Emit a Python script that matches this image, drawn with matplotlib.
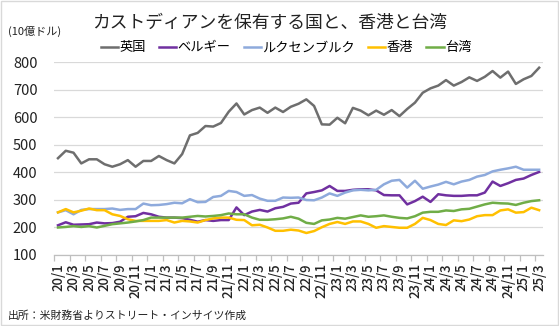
"""Custody holdings: UK, Belgium, Luxembourg vs Hong Kong and Taiwan (monthly, 20/1-25/3)."""

import matplotlib
matplotlib.use("Agg")
import matplotlib.pyplot as plt
from matplotlib.patches import Rectangle
import numpy as np

plt.rcParams["font.family"] = ["Noto Sans CJK JP", "DejaVu Sans"]

# monthly categories 20/1 .. 25/3
months = [f"{y}/{m}" for y in range(20, 26) for m in range(1, 13)][:63]

uk = [452, 479, 472, 433, 448, 448, 430, 421, 430, 445, 421, 442, 442, 460, 445, 433,
      467, 535, 544, 569, 567, 580, 621, 651, 611, 627, 636, 617, 636, 620, 639, 650,
      666, 642, 575, 574, 599, 579, 635, 625, 608, 625, 610, 627, 605, 631, 654, 690,
      706, 716, 736, 716, 729, 746, 733, 748, 769, 745, 767, 722, 739, 751, 781]
belgium = [208, 219, 210, 211, 212, 218, 215, 216, 221, 239, 241, 253, 248, 239, 236, 236,
           234, 228, 221, 227, 224, 227, 227, 273, 245, 258, 264, 258, 270, 275, 287, 290,
           324, 329, 335, 351, 333, 333, 337, 339, 339, 335, 318, 317, 317, 284, 296, 312,
           293, 321, 317, 315, 315, 317, 317, 327, 367, 351, 361, 373, 378, 391, 402]
luxembourg = [255, 263, 248, 264, 267, 267, 267, 269, 264, 267, 267, 287, 281, 282, 285, 290,
              288, 303, 292, 293, 311, 315, 333, 329, 315, 318, 305, 297, 297, 309, 308, 309,
              300, 299, 309, 324, 315, 327, 335, 337, 335, 337, 357, 370, 373, 345, 370, 341,
              349, 356, 366, 357, 367, 373, 385, 391, 404, 410, 415, 421, 410, 410, 410]
hongkong = [255, 267, 255, 261, 269, 263, 263, 248, 242, 230, 224, 224, 224, 224, 227, 218,
            224, 222, 218, 227, 233, 236, 236, 228, 227, 208, 210, 200, 188, 188, 192, 189,
            180, 187, 201, 213, 220, 213, 222, 222, 213, 199, 205, 202, 199, 199, 213, 235,
            227, 213, 209, 226, 223, 229, 241, 245, 245, 262, 266, 254, 256, 272, 263]
taiwan = [200, 202, 205, 202, 205, 200, 206, 212, 215, 218, 222, 227, 236, 236, 236, 236,
          236, 239, 242, 240, 242, 245, 251, 248, 248, 236, 228, 228, 230, 233, 239, 232,
          217, 213, 226, 229, 235, 232, 238, 244, 239, 241, 244, 239, 235, 233, 241, 254,
          257, 257, 262, 260, 266, 268, 276, 284, 290, 288, 287, 282, 290, 296, 299]

series = [("英国", uk, "#6e6e6e"),
          ("ベルギー", belgium, "#7030a0"),
          ("ルクセンブルク", luxembourg, "#8eaadc"),
          ("香港", hongkong, "#ffc000"),
          ("台湾", taiwan, "#70ad47")]

fig = plt.figure(figsize=(5.59, 3.26), dpi=100)
ax = fig.add_axes([0.0968, 0.2178, 0.8746, 0.5905])

x = np.arange(len(months))
for name, vals, col in series:
    ax.plot(x, vals, color=col, lw=1.8, label=name, solid_joinstyle="round")

ax.set_xlim(-0.5, len(months) - 0.5)
ax.set_ylim(100, 800)
ax.set_yticks(range(100, 801, 100))
ax.yaxis.grid(True, color="#d9d9d9", lw=0.9)
ax.set_axisbelow(True)
ax.tick_params(axis="y", length=0, labelsize=10.5, pad=12, labelcolor="#222222")

ax.set_xticks(x[::2])
ax.set_xticklabels(months[::2], rotation=90, fontsize=9.5, color="#222222",
                   fontweight="medium")
ax.set_xticks(np.arange(-0.5, len(months) - 1, 2), minor=True)
ax.tick_params(axis="x", which="major", length=0, pad=6)
ax.tick_params(axis="x", which="minor", length=4, color="#bfbfbf", width=0.9)

for s in ["left", "right", "top"]:
    ax.spines[s].set_visible(False)
ax.spines["bottom"].set_color("#bfbfbf")
ax.spines["bottom"].set_linewidth(0.9)

fig.text(0.483, 0.929, "カストディアンを保有する国と、香港と台湾", ha="center", va="center",
         fontsize=12.8, color="#222222")
fig.text(0.014, 0.905, "(10億ドル)", ha="left", va="center", fontsize=8, color="#222222")
fig.text(0.014, 0.031, "出所：米財務省よりストリート・インサイツ作成", ha="left", va="center",
         fontsize=7.8, color="#222222")

fig.legend(loc="center", bbox_to_anchor=(0.512, 0.853), ncol=5, frameon=False,
           fontsize=9.5, handlelength=1.3, handletextpad=0.1, columnspacing=1.0,
           borderaxespad=0)

fig.patches.append(Rectangle((0.001, 0.002), 0.997, 0.995, transform=fig.transFigure,
                             fill=False, edgecolor="#d9d9d9", lw=1))

fig.savefig("out.png", dpi=100)
